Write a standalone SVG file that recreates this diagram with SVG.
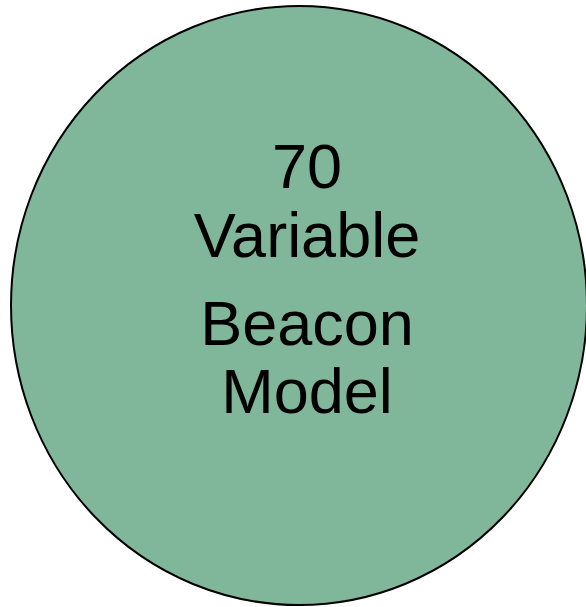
<svg xmlns="http://www.w3.org/2000/svg" width="586" height="607" viewBox="0 0 586 607">
<style>
.lbl{font-family:"Liberation Sans",Arial,sans-serif;font-size:63px;fill:#000;text-anchor:middle}
</style>
<rect width="586" height="607" fill="#fff"/>
<g id="node-beacon">
<ellipse cx="299" cy="305.5" rx="288" ry="299.5" fill="#80b69a" stroke="#000" stroke-width="2"/>
<text class="lbl" x="307" y="188">70</text>
<text class="lbl" x="307" y="257">Variable</text>
<text class="lbl" x="307" y="345">Beacon</text>
<text class="lbl" x="307" y="413">Model</text>
</g>
<g id="connectors"/>
</svg>
